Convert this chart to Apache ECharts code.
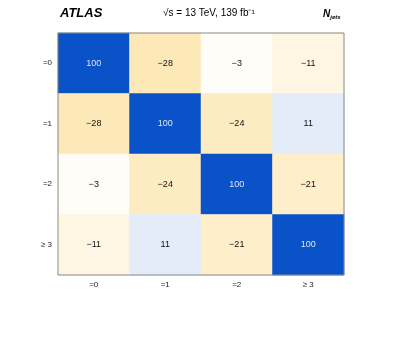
<!DOCTYPE html>
<html><head><meta charset="utf-8">
<script src="https://cdn.jsdelivr.net/npm/echarts@6/dist/echarts.min.js"></script>
<style>html,body{margin:0;padding:0;background:#fff}#c{width:399px;height:337px}</style>
</head><body><div id="c"></div>
<script>
var xCategories = ['=0', '=1', '=2', '\u2265 3'];
var yCategories = ['=0', '=1', '=2', '\u2265 3'];
var matrix = [
  [100, -28, -3, -11],
  [-28, 100, -24, 11],
  [-3, -24, 100, -21],
  [-11, 11, -21, 100]
];
var data = [];
for (var r = 0; r < matrix.length; r++) {
  for (var c = 0; c < matrix[r].length; c++) {
    var v = matrix[r][c];
    data.push(v > 60 ? { value: [c, r, v], label: { color: '#dde6f5' } } : { value: [c, r, v] });
  }
}
function fmt(v) { return v < 0 ? '\u2212' + Math.abs(v) : String(v); }
var chart = echarts.init(document.getElementById('c'));
var font = 'Liberation Sans, Arial, Helvetica, sans-serif';
chart.setOption({
  animation: false,
  textStyle: { fontFamily: font },
  grid: { left: 58, top: 33, right: 55, bottom: 62, show: true, borderColor: '#888', borderWidth: 1, z: 10 },
  xAxis: {
    type: 'category', data: xCategories, position: 'bottom',
    axisLine: { show: false }, axisTick: { show: false }, splitLine: { show: false },
    axisLabel: { fontSize: 8, color: '#222', margin: 6, fontFamily: font }
  },
  yAxis: {
    type: 'category', data: yCategories, inverse: true,
    axisLine: { show: false }, axisTick: { show: false }, splitLine: { show: false },
    axisLabel: { fontSize: 8, color: '#222', margin: 6, fontFamily: font }
  },
  visualMap: {
    show: false, type: 'continuous', min: -100, max: 100, dimension: 2,
    inRange: { color: ['#f8ad00', '#ffffff', '#0a52c8'] }
  },
  graphic: [
    { type: 'text', left: 60, top: 7, style: { text: 'ATLAS', font: 'italic bold 13px ' + font, fill: '#000' } },
    { type: 'text', left: 163, top: 8, style: { text: '\u221As = 13 TeV, 139 fb\u207B\u00B9', font: '10px ' + font, fill: '#000' } },
    { type: 'text', left: 323, top: 9, style: { text: '{n|N}{s|jets}', rich: { n: { font: 'italic bold 10px ' + font, fill: '#000' }, s: { font: 'italic bold 6px ' + font, fill: '#000', padding: [6, 0, 0, 0] } } } }
  ],
  series: [{
    type: 'heatmap', data: data,
    itemStyle: { borderWidth: 0 },
    label: {
      show: true, fontSize: 9, fontFamily: font,
      formatter: function (p) { return fmt(p.value[2]); },
      color: '#111'
    },
    emphasis: { disabled: true }
  }]
});
</script></body></html>
